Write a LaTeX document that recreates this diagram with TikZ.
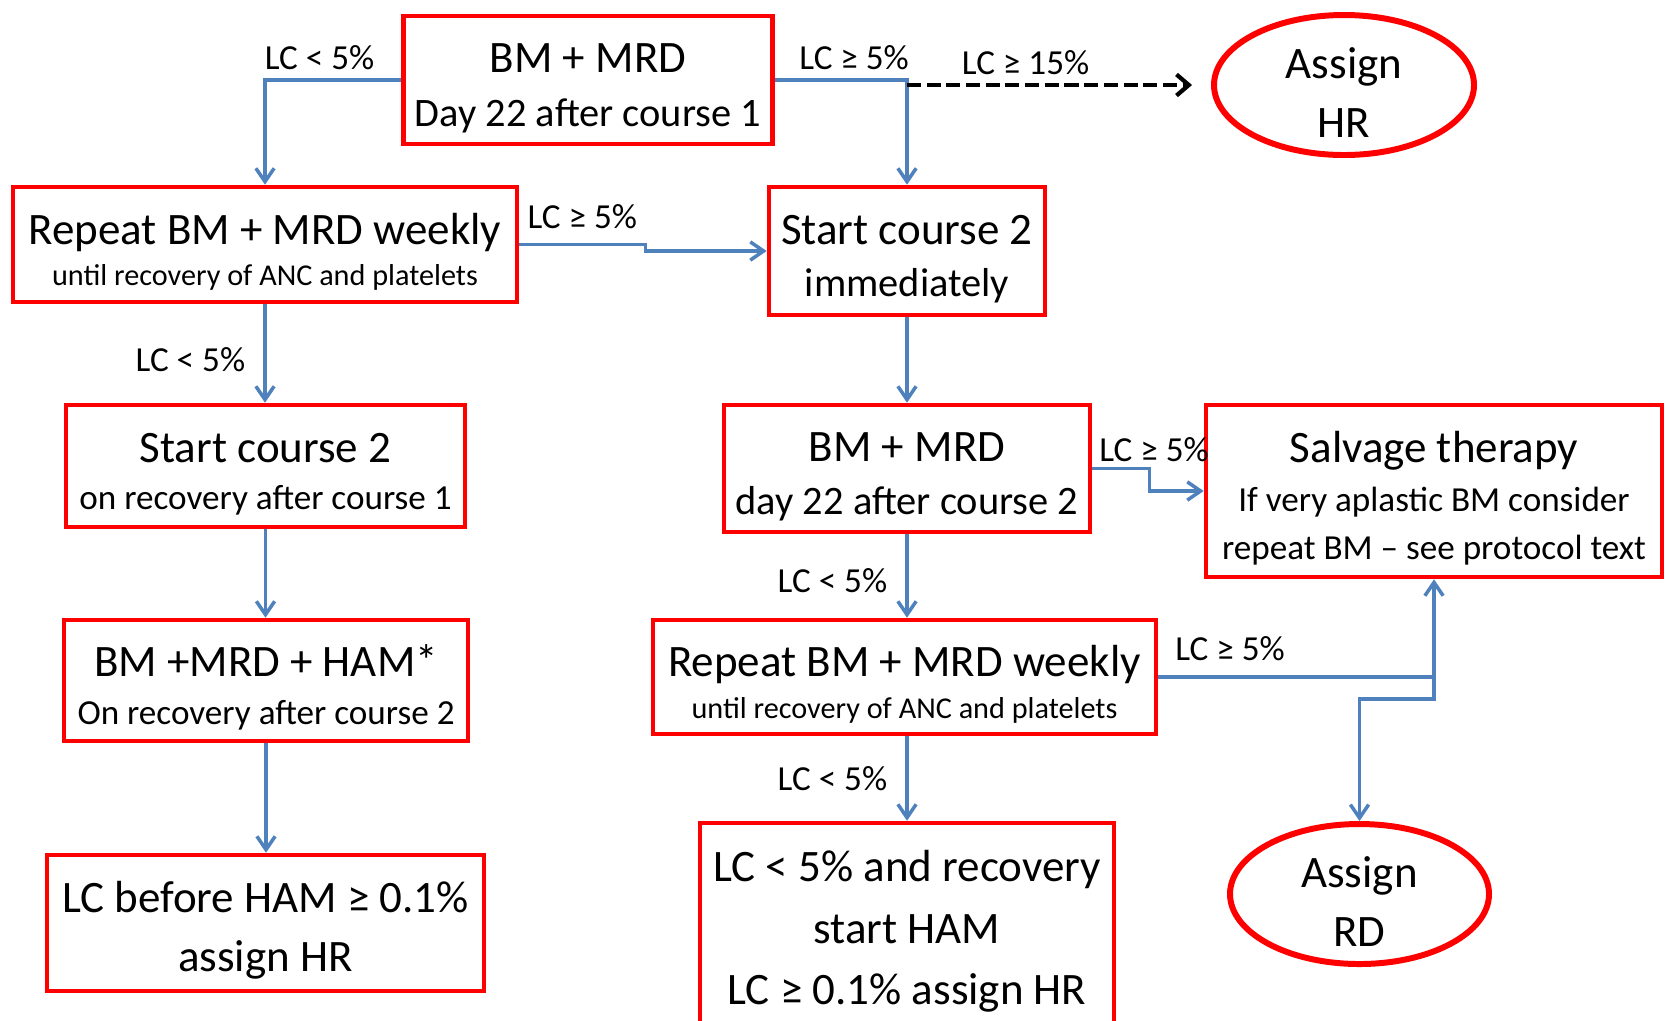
\documentclass[tikz,border=0pt]{standalone}
\usepackage{fontspec}
\setmainfont{Carlito}
\usetikzlibrary{shapes.geometric,arrows.meta,calc}

\definecolor{boxred}{RGB}{255,0,0}
\definecolor{flowblue}{RGB}{79,129,189}
\newcommand{\midsz}{\fontsize{11.5}{14}\selectfont}
\newcommand{\subsz}{\fontsize{10}{12}\selectfont}
\newcommand{\tinysz}{\fontsize{8.6}{10}\selectfont}
\newcommand{\topstrut}{\rule{0pt}{13pt}}

\tikzset{
  box/.style={draw=boxred, line width=1.3pt, align=center, inner sep=0pt},
  oval/.style={ellipse, draw=boxred, line width=1.7pt, align=center, inner sep=-2mm},
  spread/.style={font=\fontsize{12.8}{#1}\selectfont},
  flow/.style={draw=flowblue, line width=1pt, -{Straight Barb[length=3.8pt,width=5.2pt]}},
  dasharrow/.style={draw=black, line width=1.2pt, dash pattern=on 4pt off 1.6pt,
    -{Straight Barb[length=3.5pt,width=6pt]}, shorten >=1.9mm},
  lbl/.style={font=\subsz, inner sep=2.3pt},
}

\begin{document}
\begin{tikzpicture}[x=0.1mm,y=-0.1mm]
  \useasboundingbox (0,0) rectangle (1665,1020);
  \clip (0,0) rectangle (1665,1020);

  % left column
  \node[box, spread=15.3pt, minimum width=36.9mm, minimum height=12.8mm] (day22a) at (588,80)
    {\topstrut BM + MRD\\{\midsz Day 22 after course 1}};
  \node[box, spread=11.8pt, minimum width=50.4mm, minimum height=11.5mm] (weeklyA) at (265,244.5)
    {\topstrut Repeat BM + MRD weekly\\{\tinysz until recovery of ANC and platelets}};
  \node[box, spread=13.6pt, minimum width=39.9mm, minimum height=12.2mm] (course2rec) at (265.5,466)
    {\topstrut Start course 2\\{\subsz on recovery after course 1}};
  \node[box, spread=13.8pt, minimum width=40.4mm, minimum height=12.1mm] (ham) at (266,680.5)
    {\topstrut BM +MRD + HAM*\\{\subsz On recovery after course 2}};
  \node[box, spread=17pt, minimum width=43.7mm, minimum height=13.6mm] (hrA) at (265.5,923)
    {\topstrut LC before HAM ≥ 0.1\%\\assign HR};

  % middle column
  \node[box, spread=15pt, minimum width=27.6mm, minimum height=12.8mm] (course2now) at (907,251)
    {\topstrut Start course 2\\{\midsz immediately}};
  \node[box, spread=15.3pt, minimum width=36.6mm, minimum height=12.7mm] (day22b) at (907,468.5)
    {\topstrut BM + MRD\\{\midsz day 22 after course 2}};
  \node[box, spread=12pt, minimum width=50.3mm, minimum height=11.4mm] (weeklyB) at (904.5,677)
    {\topstrut Repeat BM + MRD weekly\\{\tinysz until recovery of ANC and platelets}};
  \node[box, spread=17.5pt, minimum width=41.4mm, minimum height=21.7mm] (startham) at (907,931.5)
    {LC < 5\% and recovery\\start HAM\\LC ≥ 0.1\% assign HR};

  % right column
  \node[oval, spread=16.9pt, minimum width=26mm, minimum height=14mm] (hr) at (1344,85)
    {\topstrut Assign\\HR};
  \node[box, spread=13.7pt, minimum width=45.6mm, minimum height=17.2mm] (salvage) at (1434,491)
    {\topstrut Salvage therapy\\{\subsz If very aplastic BM consider}\\{\subsz repeat BM -- see protocol text}};
  \node[oval, spread=16.9pt, minimum width=25.9mm, minimum height=14mm] (rd) at (1359.5,894)
    {\topstrut Assign\\RD};

  \coordinate (split) at (course2now.north |- hr.west);
  \coordinate (fork) at ($(weeklyB.east -| salvage.south)+(0,22)$);

  \draw[flow] (day22a.west) -| node[lbl, above, pos=0.3] {LC < 5\%} (weeklyA.north);
  \draw[flow] (day22a.east) -| node[lbl, above, pos=0.3] {LC ≥ 5\%} (course2now.north);
  \draw[dasharrow] (split) -- node[lbl, above, pos=0.39] {LC ≥ 15\%} (hr.west);
  \draw[flow] (weeklyA.east) -- node[lbl, above, yshift=0.6mm] {LC ≥ 5\%} ++(126,0) |- (course2now.west);
  \draw[flow] (weeklyA.south) -- node[lbl, left, xshift=-1mm, yshift=-0.6mm] {LC < 5\%} (weeklyA.south |- course2rec.north);
  \draw[flow] (course2rec.south) -- (course2rec.south |- ham.north);
  \draw[flow] (ham.south) -- (ham.south |- hrA.north);
  \draw[flow] (course2now.south) -- (day22b.north);
  \draw[flow] (day22b.east) node[lbl, above right, inner sep=1.5pt] {LC ≥ 5\%} -- ++(57,0) |- (salvage.west);
  \draw[flow] (day22b.south) -- node[lbl, left, xshift=-1mm, yshift=-0.5mm] {LC < 5\%} (day22b.south |- weeklyB.north);
  \draw[flow] (weeklyB.east) -| node[lbl, above, pos=0.13, yshift=0.6mm] {LC ≥ 5\%} (salvage.south);
  \draw[flow] (weeklyB.east -| salvage.south) -- (fork) -| (rd.north);
  \draw[flow] (startham.north |- weeklyB.south) -- node[lbl, left, xshift=-1mm] {LC < 5\%} (startham.north);
\end{tikzpicture}
\end{document}
